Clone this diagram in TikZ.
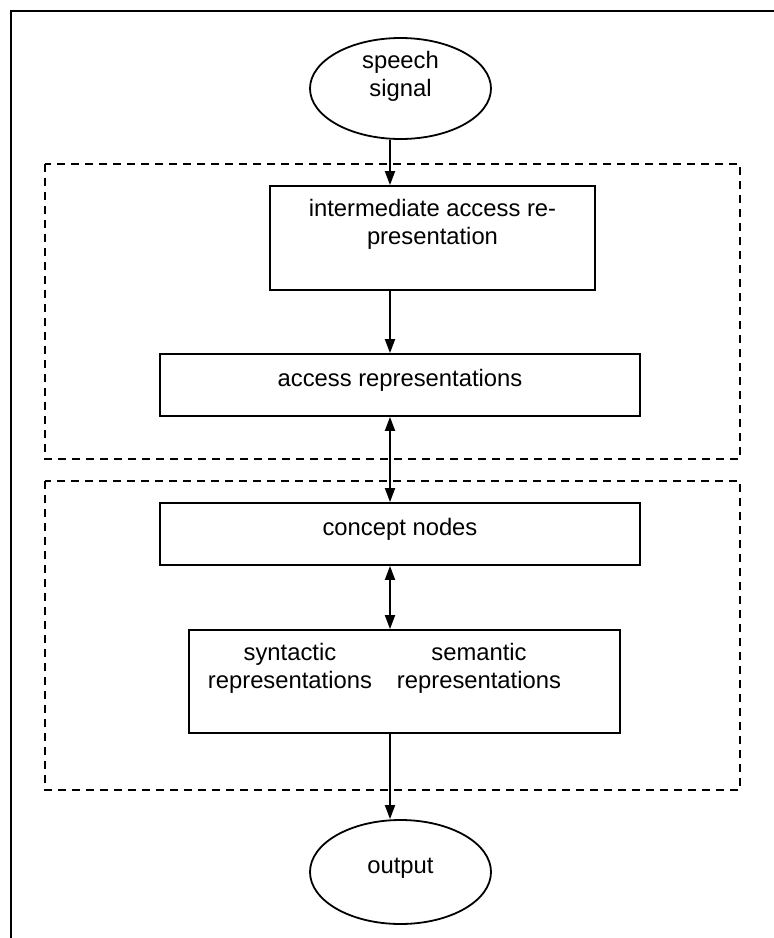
\documentclass[tikz,border=0pt]{standalone}
\usepackage{fontspec}
\setmainfont{Liberation Sans}
\usetikzlibrary{shapes.geometric,arrows.meta}

\begin{document}
\begin{tikzpicture}[
    x=1pt, y=-1pt,
    font=\fontsize{23.8}{28}\selectfont,
    >={Triangle[length=14pt,width=10pt]},
    box/.style={
        draw=black,
        line width=1.8pt,
        inner sep=0pt,
        align=center
    },
    term/.style={
        ellipse,
        draw=black,
        line width=1.8pt,
        inner sep=0pt,
        align=center,
        minimum width=181pt,
        minimum height=101pt
    },
    group/.style={
        draw=black,
        line width=1.8pt,
        dash pattern=on 8pt off 6pt
    },
    arr/.style={->, line width=1.8pt},
    biarr/.style={<->, line width=1.8pt}
]
\useasboundingbox (0,0) rectangle (774,938);

% outer frame: only top and left edge show
\draw[line width=2.4pt] (774,11) -- (11,11) -- (11,938);

% dashed groups
\draw[group] (45,164) rectangle (740,459);
\draw[group] (45,481) rectangle (740,790);

% input / output
\node[term, text height=40pt, text depth=25pt] (speech) at (400.5,88.5)
{speech\\signal};

\node[term, minimum height=104pt, text height=17pt, text depth=15pt] (output) at (400.5,872)
{output};

% first group
\node[box, minimum width=325pt, minimum height=104pt,
      text height=45pt, text depth=33pt] (inter) at (432.5,238)
{intermediate access re-\\presentation};

\node[box, minimum width=480pt, minimum height=62pt,
      text height=17pt, text depth=15pt] (access) at (400,385)
{access representations};

% second group
\node[box, minimum width=480pt, minimum height=62pt,
      text height=17pt, text depth=15pt] (concept) at (400,534)
{concept nodes};

\node[box, minimum width=431pt, minimum height=103pt,
      text height=45pt, text depth=32pt] (syntax) at (404.5,681.5)
{\begin{tabular}[b]{@{}c@{\hspace{25pt}}c@{\hspace{40pt}}}
syntactic & semantic\\
representations & representations
\end{tabular}};

% vertical connectors
\coordinate (axis) at (390,0);
\draw[arr] (speech.south -| axis) -- (inter.north -| axis);
\draw[arr] (inter.south -| axis) -- (access.north -| axis);
\draw[biarr] (access.south -| axis) -- (concept.north -| axis);
\draw[biarr] (concept.south -| axis) -- (syntax.north -| axis);
\draw[arr] (syntax.south -| axis) -- (output.north -| axis);

\end{tikzpicture}
\end{document}
